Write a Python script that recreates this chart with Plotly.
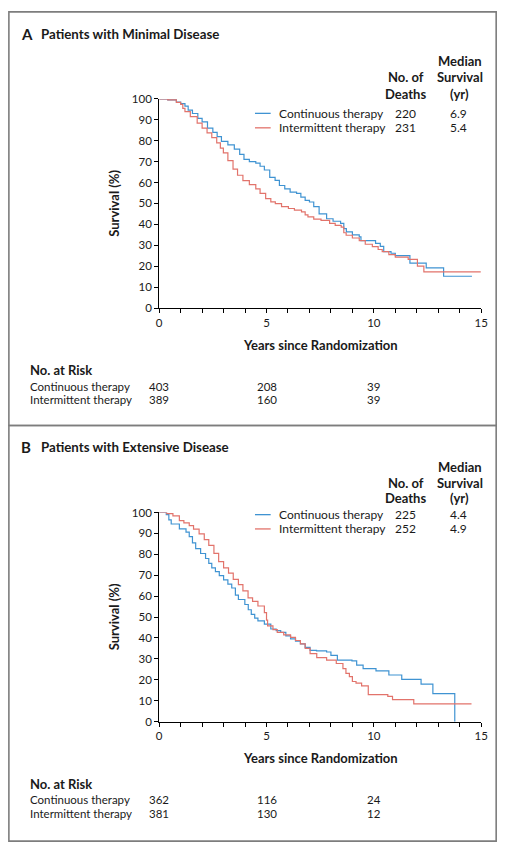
import plotly.graph_objects as go

# ---------------- data ----------------
# Panel A: minimal disease (time in years, survival % after that time)
a_cont_t = [0, 0.4, 0.8, 1.0, 1.2, 1.35, 1.55, 1.8, 2.0, 2.25, 2.5, 2.7, 2.9, 3.2, 3.5, 3.75, 3.95,
            4.2, 4.5, 4.7, 4.9, 5.15, 5.4, 5.6, 5.85, 6.1, 6.4, 6.6, 6.8, 7.0, 7.2, 7.45, 7.8, 8.1,
            8.45, 8.6, 8.72, 9.0, 9.32, 9.4, 10.08, 10.3, 10.46, 10.8, 11.0, 11.68, 12.44, 13.25, 14.57]
a_cont_s = [100, 99.5, 98.5, 97.7, 96.5, 94.6, 93.0, 90.7, 89.0, 86.0, 84.0, 82.0, 79.7, 78.0, 76.0, 73.5, 71.1,
            70.0, 69.3, 67.8, 66.0, 62.5, 61.0, 58.6, 57.0, 55.4, 54.8, 53.0, 51.5, 50.7, 48.5, 45.0, 42.7, 41.5,
            40.5, 38.0, 36.4, 35.0, 34.0, 32.2, 30.9, 29.5, 27.0, 26.2, 25.1, 21.5, 19.2, 15.2, 15.2]

a_int_t = [0, 0.4, 0.8, 1.0, 1.1, 1.2, 1.45, 1.77, 2.0, 2.23, 2.45, 2.68, 2.85, 2.99, 3.2, 3.44, 3.65, 3.9,
           4.2, 4.5, 4.7, 4.96, 5.2, 5.41, 5.7, 6.02, 6.3, 6.63, 6.8, 6.93, 7.2, 7.54, 7.94, 8.2, 8.48, 8.6,
           8.71, 9.0, 9.32, 9.6, 9.93, 10.2, 10.39, 10.7, 11.0, 11.6, 12.03, 12.33, 14.98]
a_int_s = [100, 99.5, 98.3, 97.4, 95.5, 93.9, 91.5, 88.4, 86.0, 83.7, 81.5, 79.0, 76.5, 74.2, 70.5, 66.4, 63.5, 60.9,
           59.0, 57.0, 54.8, 52.3, 50.8, 49.9, 48.5, 47.6, 46.8, 46.0, 44.5, 43.6, 42.5, 41.9, 40.5, 39.5, 38.7, 36.0,
           34.8, 33.5, 32.2, 30.5, 29.4, 28.0, 27.0, 25.5, 24.3, 23.3, 20.0, 17.3, 17.3]

# Panel B: extensive disease
b_cont_t = [0, 0.33, 0.45, 0.56, 0.94, 1.25, 1.4, 1.55, 1.7, 1.93, 2.16, 2.31, 2.45, 2.62, 2.8, 3.0, 3.2, 3.38,
            3.55, 3.69, 3.99, 4.15, 4.29, 4.45, 4.6, 4.9, 5.2, 5.45, 5.66, 5.9, 6.12, 6.35, 6.58, 6.8, 7.03,
            7.33, 7.8, 8.0, 8.3, 8.98, 9.2, 9.5, 10.1, 10.7, 11.3, 12.2, 12.75, 13.77]
b_cont_s = [100, 99.0, 96.5, 94.5, 92.2, 90.6, 88.5, 85.5, 82.7, 80.4, 78.0, 75.7, 73.5, 71.7, 69.8, 67.8, 65.8, 63.9,
            60.5, 58.4, 56.0, 53.5, 51.3, 49.5, 48.2, 46.6, 44.3, 43.5, 42.7, 41.0, 39.6, 38.5, 37.2, 35.5, 34.1,
            33.8, 33.3, 31.7, 29.4, 29.1, 27.0, 25.4, 24.3, 22.3, 20.2, 17.9, 13.4, 0]

b_int_t = [0, 0.35, 0.64, 0.94, 1.15, 1.4, 1.6, 1.86, 2.1, 2.31, 2.55, 2.77, 3.0, 3.23, 3.45, 3.69, 3.9, 4.14,
           4.35, 4.6, 4.9, 5.0, 5.05, 5.3, 5.5, 5.8, 6.12, 6.35, 6.58, 6.8, 7.03, 7.34, 7.8, 8.25, 8.56, 8.7,
           8.86, 9.0, 9.17, 9.43, 9.74, 10.65, 10.87, 11.86, 14.55]
b_int_s = [100, 99.5, 98.4, 96.1, 95.0, 93.7, 92.0, 89.8, 87.0, 84.3, 80.5, 76.5, 73.5, 71.0, 68.0, 65.5, 62.5, 59.2,
           57.5, 55.3, 52.1, 48.5, 45.8, 44.0, 42.7, 41.5, 40.3, 38.8, 37.2, 35.0, 32.5, 30.6, 29.4, 27.8, 25.4, 23.1,
           21.5, 19.2, 18.4, 17.1, 12.9, 12.1, 10.5, 8.5, 8.5]

series_names = ["Continuous therapy", "Intermittent therapy"]
a_deaths = ["220", "231"]
a_median = ["6.9", "5.4"]
b_deaths = ["225", "252"]
b_median = ["4.4", "4.9"]

risk_times = [0, 5, 10]
a_risk_cont = ["403", "208", "39"]
a_risk_int = ["389", "160", "39"]
b_risk_cont = ["362", "116", "24"]
b_risk_int = ["381", "130", "12"]

x_ticks = [0, 5, 10, 15]
y_ticks = list(range(0, 101, 10))

# ---------------- styling ----------------
W, H = 512, 854
FONT = "Lato"
BLUE = "#3f93d2"
RED = "#e2736b"
TXT = "#1a1a1a"
colors = [BLUE, RED]
BOLD = 13


def px(x):
    return x / W


def py(y):
    return 1 - y / H


fig = go.Figure()

panels = [
    dict(xa="x", ya="y", data=[(a_cont_t, a_cont_s), (a_int_t, a_int_s)], top=93.3, bot=305.7, off=0,
         letter="A", title="Patients with Minimal Disease", deaths=a_deaths, median=a_median,
         risk=[a_risk_cont, a_risk_int]),
    dict(xa="x2", ya="y2", data=[(b_cont_t, b_cont_s), (b_int_t, b_int_s)], top=513.3, bot=725.7, off=420,
         letter="B", title="Patients with Extensive Disease", deaths=b_deaths, median=b_median,
         risk=[b_risk_cont, b_risk_int]),
]

x_left, x_right = 159.3, 487.7
annotations = []
shapes = []

for i, p in enumerate(panels):
    for j, (t, s) in enumerate(p["data"]):
        fig.add_trace(go.Scatter(x=t, y=s, mode="lines", line_shape="hv", name=series_names[j],
                                 line=dict(color=colors[j], width=1.2), xaxis=p["xa"], yaxis=p["ya"],
                                 showlegend=False, hoverinfo="skip"))
    sfx = "" if i == 0 else "2"
    axis_common = dict(showgrid=False, zeroline=False, showline=True, linecolor="black", linewidth=1,
                       ticks="outside", ticklen=4, tickwidth=1, tickcolor="black",
                       tickfont=dict(family=FONT, size=11.5, color=TXT))
    fig.update_layout(**{
        "xaxis" + sfx: dict(domain=[px(x_left), px(x_right)], range=[0, 15], anchor="y" + sfx,
                            tickvals=x_ticks, minor=dict(dtick=1, ticks="outside", ticklen=4,
                                                          tickcolor="black", showgrid=False),
                            **axis_common),
        "yaxis" + sfx: dict(domain=[py(p["bot"]), py(p["top"])], range=[0, 100], anchor="x" + sfx,
                            tickvals=y_ticks, **axis_common),
    })

    o = p["off"]
    # frame
    shapes.append(dict(type="rect", xref="paper", yref="paper", x0=px(6), x1=px(503),
                       y0=py(425 if i == 0 else 847), y1=py(5 if i == 0 else 425),
                       line=dict(color="#7d7d7d", width=1.6)))
    # title
    annotations.append(dict(text="<b>" + p["letter"] + "</b>", x=px(16), y=py(27 + o), xanchor="left",
                            yanchor="middle", font=dict(size=15)))
    annotations.append(dict(text="<b>" + p["title"] + "</b>", x=px(37), y=py(27 + o), xanchor="left",
                            yanchor="middle", font=dict(size=13.3)))
    # header of legend table
    hy = [55, 71, 88] if i == 0 else [467, 483, 499]
    for k, txt in enumerate(["Median", "Survival", "(yr)"]):
        annotations.append(dict(text="<b>" + txt + "</b>", x=px(466), y=py(hy[k]), xanchor="center",
                                yanchor="middle", font=dict(size=BOLD)))
    for k, txt in enumerate(["No. of", "Deaths"]):
        annotations.append(dict(text="<b>" + txt + "</b>", x=px(411), y=py(hy[k + 1]), xanchor="center",
                                yanchor="middle", font=dict(size=BOLD)))
    ly = [108, 122.7] if i == 0 else [515.5, 530]
    for j in range(2):
        shapes.append(dict(type="line", xref="paper", yref="paper", x0=px(257), x1=px(273),
                           y0=py(ly[j]), y1=py(ly[j]), line=dict(color=colors[j], width=1.3)))
        annotations.append(dict(text=series_names[j], x=px(279), y=py(ly[j]), xanchor="left",
                                yanchor="middle"))
        annotations.append(dict(text=p["deaths"][j], x=px(411), y=py(ly[j]), xanchor="center",
                                yanchor="middle"))
        annotations.append(dict(text=p["median"][j], x=px(465), y=py(ly[j]), xanchor="center",
                                yanchor="middle"))
    # axis titles
    annotations.append(dict(text="<b>Survival (%)</b>", x=px(113.5), y=py((p["top"] + p["bot"]) / 2),
                            textangle=-90, xanchor="center", yanchor="middle", font=dict(size=BOLD)))
    annotations.append(dict(text="<b>Years since Randomization</b>", x=px((x_left + x_right) / 2),
                            y=py(343 + o), xanchor="center", yanchor="middle", font=dict(size=BOLD)))
    # number at risk
    annotations.append(dict(text="<b>No. at Risk</b>", x=px(26), y=py(369 + o), xanchor="left",
                            yanchor="middle", font=dict(size=BOLD)))
    ry = [385 + o, 399 + o]
    for j in range(2):
        annotations.append(dict(text=series_names[j], x=px(26), y=py(ry[j]), xanchor="left",
                                yanchor="middle", font=dict(size=11.5)))
        for tt, val in zip(risk_times, p["risk"][j]):
            annotations.append(dict(text=val, x=tt, xref=p["xa"], y=py(ry[j]), yref="paper",
                                    xanchor="center", yanchor="middle", font=dict(size=11.5)))

for a in annotations:
    a.setdefault("xref", "paper")
    a.setdefault("yref", "paper")
    a["showarrow"] = False
    f = a.get("font", {})
    f.setdefault("family", FONT)
    f.setdefault("size", 12)
    f.setdefault("color", TXT)
    a["font"] = f

fig.update_layout(width=W, height=H, margin=dict(l=0, r=0, t=0, b=0), paper_bgcolor="white",
                  plot_bgcolor="white", annotations=annotations, shapes=shapes,
                  font=dict(family=FONT, size=12, color=TXT))

fig.write_html("out.html", config={"displayModeBar": False},
               post_script="document.body.style.margin='0';document.body.style.overflow='hidden';")
